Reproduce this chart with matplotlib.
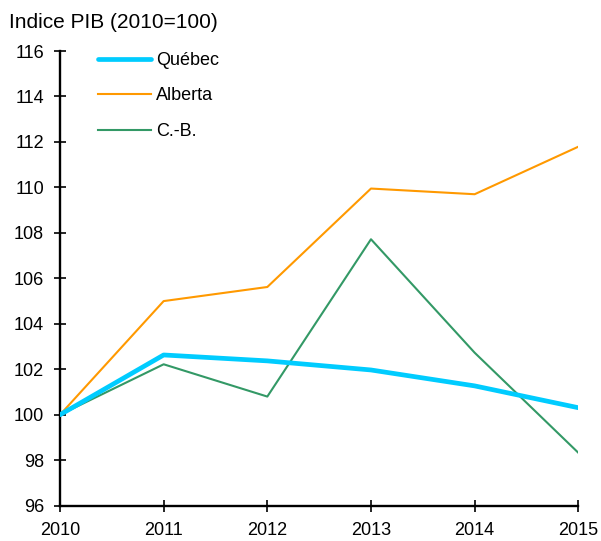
import matplotlib.pyplot as plt

annees = [2010, 2011, 2012, 2013, 2014, 2015]
quebec = [100, 102.63, 102.37, 101.97, 101.27, 100.31]
alberta = [100, 105.0, 105.62, 109.95, 109.70, 111.79]
cb = [100, 102.22, 100.80, 107.72, 102.73, 98.33]

plt.rcParams['font.family'] = ['Liberation Sans', 'DejaVu Sans']

fig = plt.figure(figsize=(6.01, 5.41), dpi=100)
ax = fig.add_axes([60 / 601, 1 - 505.7 / 541, (578.3 - 60) / 601, (505.7 - 51) / 541])

ax.plot(annees, quebec, color='#00CCFF', linewidth=3.4, label='Québec', zorder=3,
        solid_capstyle='round')
ax.plot(annees, alberta, color='#FF9900', linewidth=1.5, label='Alberta', zorder=2)
ax.plot(annees, cb, color='#339966', linewidth=1.5, label='C.-B.', zorder=2)

ax.set_xlim(2010, 2015)
ax.set_ylim(96, 116)
ax.set_xticks(annees)
ax.set_yticks(range(96, 117, 2))

for side in ['top', 'right']:
    ax.spines[side].set_visible(False)
for side in ['left', 'bottom']:
    ax.spines[side].set_linewidth(1.7)
    ax.spines[side].set_color('black')
ax.tick_params(direction='inout', length=8, width=1.2, labelsize=13, colors='black', pad=7.5)

fig.text(9 / 601, 1 - 27.7 / 541, 'Indice PIB (2010=100)', fontsize=15, va='baseline', ha='left')

leg = ax.legend(loc='upper left', bbox_to_anchor=(0.060, 1.014), frameon=False,
                borderaxespad=0, fontsize=13, handlelength=2.94, handletextpad=0.28,
                labelspacing=1.03)

plt.savefig('out.png', dpi=100)
